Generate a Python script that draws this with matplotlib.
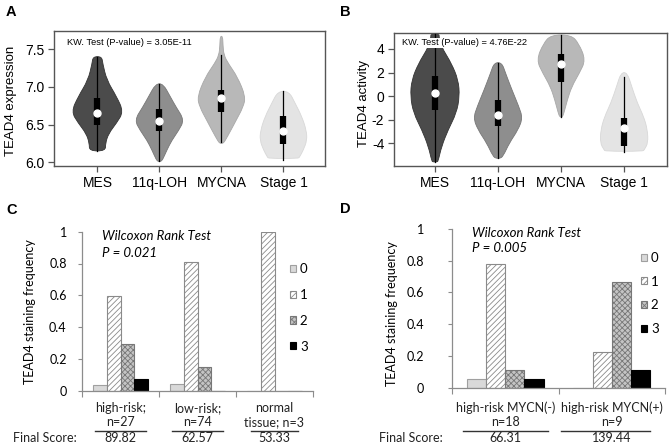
import matplotlib
matplotlib.use("Agg")
import matplotlib.pyplot as plt
import numpy as np
from matplotlib.path import Path
from matplotlib.patches import PathPatch, Patch
from matplotlib.transforms import blended_transform_factory

plt.rcParams['hatch.linewidth'] = 0.6

# ---------------- data: panel A (TEAD4 expression) ----------------
violin_groups = ["MES", "11q-LOH", "MYCNA", "Stage 1"]
violin_colors = ["#4b4b4b", "#8e8e8e", "#b8b8b8", "#e4e4e4"]
violin_edges = ["#333333", "#777777", "#a8a8a8", "#d8d8d8"]

# outline levels (bottom -> top) and half-widths (in category units)
A_MES_y = [6.15, 6.25, 6.38, 6.52, 6.67, 6.87, 7.09, 7.31, 7.40]
A_MES_w = [0.13, 0.13, 0.18, 0.31, 0.42, 0.31, 0.15, 0.086, 0.07]
A_LOH_y = [6.01, 6.03, 6.16, 6.29, 6.42, 6.56, 6.73, 6.87, 7.04]
A_LOH_w = [0.02, 0.05, 0.12, 0.20, 0.31, 0.40, 0.27, 0.175, 0.06]
A_MYC_y = [6.25, 6.27, 6.42, 6.56, 6.73, 6.87, 7.13, 7.31, 7.42, 7.55, 7.67]
A_MYC_w = [0.02, 0.05, 0.15, 0.24, 0.35, 0.39, 0.26, 0.11, 0.04, 0.025, 0.02]
A_ST1_y = [6.05, 6.07, 6.16, 6.29, 6.42, 6.60, 6.78, 6.94]
A_ST1_w = [0.24, 0.26, 0.32, 0.38, 0.37, 0.30, 0.19, 0.09]
# whisker low/high, box q1/q3, median
A_lo = [6.15, 6.02, 6.27, 6.03]
A_hi = [7.40, 7.04, 7.42, 6.94]
A_q1 = [6.49, 6.42, 6.67, 6.24]
A_q3 = [6.85, 6.70, 6.96, 6.61]
A_med = [6.65, 6.55, 6.85, 6.41]
A_yticks = [6.0, 6.5, 7.0, 7.5]
A_ytick_labels = ["6.0", "6.5", "7.0", "7.5"]
A_text = "KW. Test (P-value) = 3.05E-11"

# ---------------- data: panel B (TEAD4 activity) ----------------
B_MES_y = [-5.6, -5.55, -4.28, -2.86, -1.45, -0.04, 1.37, 2.79, 3.92, 4.6, 5.05, 5.27]
B_MES_w = [0.03, 0.05, 0.105, 0.21, 0.34, 0.39, 0.37, 0.26, 0.13, 0.08, 0.065, 0.065]
B_LOH_y = [-5.3, -5.13, -3.99, -2.86, -1.87, -0.89, 0.53, 1.94, 2.84]
B_LOH_w = [0.03, 0.08, 0.18, 0.32, 0.39, 0.33, 0.22, 0.12, 0.06]
B_MYC_y = [-1.79, -1.45, -0.32, 0.81, 1.94, 3.07, 4.48, 5.19]
B_MYC_w = [0.02, 0.045, 0.10, 0.17, 0.29, 0.39, 0.28, 0.16]
B_ST1_y = [-4.7, -4.56, -3.99, -2.86, -1.74, -0.60, 0.81, 1.99]
B_ST1_w = [0.30, 0.32, 0.38, 0.37, 0.31, 0.21, 0.12, 0.05]
B_lo = [-5.6, -5.3, -1.79, -4.79]
B_hi = [5.27, 2.84, 5.19, 1.65]
B_q1 = [-1.2, -2.58, 1.23, -4.22]
B_q3 = [1.71, -0.32, 3.58, -1.87]
B_med = [0.30, -1.59, 2.70, -2.70]
B_yticks = [-4, -2, 0, 2, 4]
B_ytick_labels = ["-4", "-2", "0", "2", "4"]
B_text = "KW. Test (P-value) = 4.76E-22"

# ---------------- data: panel C (staining) ----------------
score_levels = ["0", "1", "2", "3"]
C_groups_line1 = ["high-risk;", "low-risk;", "normal"]
C_groups_line2 = ["n=27", "n=74", "tissue; n=3"]
C_scores = ["89.82", "62.57", "53.33"]
C_freq_0 = [0.037, 0.041, 0.0]
C_freq_1 = [0.593, 0.811, 1.0]
C_freq_2 = [0.296, 0.149, 0.0]
C_freq_3 = [0.074, 0.0, 0.0]
C_test = "Wilcoxon Rank Test"
C_p = "P = 0.021"

# ---------------- data: panel D ----------------
D_groups_line1 = ["high-risk MYCN(-)", "high-risk MYCN(+)"]
D_groups_line2 = ["n=18", "n=9"]
D_scores = ["66.31", "139.44"]
D_freq_0 = [0.056, 0.0]
D_freq_1 = [0.778, 0.222]
D_freq_2 = [0.111, 0.667]
D_freq_3 = [0.056, 0.111]
D_test = "Wilcoxon Rank Test"
D_p = "P = 0.005"

freq_yticks = [0, 0.2, 0.4, 0.6, 0.8, 1.0]
freq_ytick_labels = ["0", "0.2", "0.4", "0.6", "0.8", "1"]

# ---------------- figure ----------------
W, H = 671, 447
fig = plt.figure(figsize=(W / 100, H / 100), dpi=100)

def ax_px(left, top, right, bottom):
    return fig.add_axes([left / W, 1 - bottom / H, (right - left) / W, (bottom - top) / H])

SANS = ["Liberation Sans", "DejaVu Sans"]
CAL = ["Lato", "DejaVu Sans"]

def smooth_outline(pos, ys, ws):
    right = [(pos + w, y) for y, w in zip(ys, ws)]
    left = [(pos - w, y) for y, w in zip(ys[::-1], ws[::-1])]
    pts = np.array(right + left)
    n = len(pts)
    mids = (pts + np.roll(pts, -1, axis=0)) / 2.0
    verts = [mids[-1]]
    codes = [Path.MOVETO]
    for i in range(n):
        verts.append(pts[i]); codes.append(Path.CURVE3)
        verts.append(mids[i]); codes.append(Path.CURVE3)
    verts.append(mids[-1]); codes.append(Path.CLOSEPOLY)
    return Path(verts, codes)

def violin_panel(ax, outlines, lo, hi, q1, q3, med):
    for i, (ys, ws) in enumerate(outlines):
        pos = i + 1
        p = smooth_outline(pos, ys, ws)
        ax.add_patch(PathPatch(p, facecolor=violin_colors[i], edgecolor=violin_edges[i], lw=0.6, zorder=2))
        ax.plot([pos, pos], [lo[i], hi[i]], color="black", lw=0.9, zorder=3)
        ax.plot([pos, pos], [q1[i], q3[i]], color="black", lw=4.5, solid_capstyle="butt", zorder=4)
        ax.plot([pos], [med[i]], "o", color="white", ms=5, mec="white", zorder=5)
    ax.set_xticks(range(1, 5))
    ax.set_xticklabels(violin_groups, fontsize=10, family=SANS)
    for s in ax.spines.values():
        s.set_color("#555555")
        s.set_linewidth(1.0)
    ax.tick_params(axis="both", direction="out", length=4, color="#555555", width=0.9, labelsize=10, pad=3)

# Panel A
axA = ax_px(54, 31, 325, 166)
violin_panel(axA, [(A_MES_y, A_MES_w), (A_LOH_y, A_LOH_w), (A_MYC_y, A_MYC_w), (A_ST1_y, A_ST1_w)],
             A_lo, A_hi, A_q1, A_q3, A_med)
axA.set_xlim(0.30, 4.67)
axA.set_ylim(5.95, 7.74)
axA.set_yticks(A_yticks)
axA.set_yticklabels(A_ytick_labels, family=SANS, fontsize=10)
axA.set_ylabel("TEAD4 expression", family=SANS, fontsize=9.5)
axA.yaxis.set_label_coords(-0.137, 0.483)
axA.text(0.048, 0.915, A_text, transform=axA.transAxes, fontsize=6.7, family=SANS,
         va="center", ha="left", zorder=6)

# Panel B
axB = ax_px(394, 33, 667, 166)
violin_panel(axB, [(B_MES_y, B_MES_w), (B_LOH_y, B_LOH_w), (B_MYC_y, B_MYC_w), (B_ST1_y, B_ST1_w)],
             B_lo, B_hi, B_q1, B_q3, B_med)
axB.set_xlim(0.35, 4.68)
axB.set_ylim(-5.95, 5.36)
axB.set_yticks(B_yticks)
axB.set_yticklabels(B_ytick_labels, family=SANS, fontsize=10)
axB.set_ylabel("TEAD4 activity", family=SANS, fontsize=9.5)
axB.yaxis.set_label_coords(-0.088, 0.47)
axB.text(0.03, 0.925, B_text, transform=axB.transAxes, fontsize=6.7, family=SANS,
         va="center", ha="left", zorder=6,
         bbox=dict(facecolor="white", edgecolor="none", pad=0.6))

# bar styles
bar_face = ["#d9d9d9", "white", "#c4c4c4", "black"]
bar_edge = ["#a0a0a0", "#8a8a8a", "#777777", "black"]
bar_hatch = [None, "//////", "xxxxxx", None]
BW = 0.18

def bar_panel(ax, freqs, line1, line2, scores, lab_y, line_half, line_off):
    n = len(line1)
    x = np.arange(n)
    handles = []
    for k, f in enumerate(freqs):
        offs = (k - 1.5) * BW
        ax.bar(x + offs, f, width=BW, color=bar_face[k], edgecolor=bar_edge[k], hatch=bar_hatch[k],
               linewidth=0.8, zorder=2)
        handles.append(Patch(facecolor=bar_face[k], edgecolor=bar_edge[k], hatch=bar_hatch[k], linewidth=0.8))
    ax.set_xlim(-0.5, n - 0.5)
    ax.set_ylim(0, 1.0)
    ax.set_xticks(np.arange(n + 1) - 0.5)
    ax.set_xticklabels([])
    ax.set_yticks(freq_yticks)
    ax.set_yticklabels(freq_ytick_labels, family=CAL, fontsize=9)
    for s in ["top", "right"]:
        ax.spines[s].set_visible(False)
    for s in ["left", "bottom"]:
        ax.spines[s].set_color("#8c8c8c")
        ax.spines[s].set_linewidth(0.9)
    ax.tick_params(axis="x", direction="out", length=4, color="#8c8c8c", width=0.8)
    ax.tick_params(axis="y", direction="out", length=3, color="#8c8c8c", width=0.8)
    tr = blended_transform_factory(ax.transData, ax.transAxes)
    y1, y2, yl, ys = lab_y
    for i in range(n):
        ax.text(i, y1, line1[i], transform=tr, ha="center", va="center", family=CAL, fontsize=9, color="#222222")
        ax.text(i, y2, line2[i], transform=tr, ha="center", va="center", family=CAL, fontsize=9, color="#222222")
        ax.plot([i + line_off[i] - line_half[i], i + line_off[i] + line_half[i]], [yl, yl], transform=tr,
                color="#333333", lw=1.0, clip_on=False)
        ax.text(i, ys, scores[i], transform=tr, ha="center", va="center", family=CAL, fontsize=9, color="#222222")
    return handles

# Panel C
axC = ax_px(82, 231.7, 313, 390.7)
hC = bar_panel(axC, [C_freq_0, C_freq_1, C_freq_2, C_freq_3], C_groups_line1, C_groups_line2, C_scores,
               (-0.109, -0.197, -0.252, -0.297), [0.325, 0.325, 0.30], [0.0, 0.0, 0.0])
axC.set_ylabel("TEAD4 staining frequency", family=CAL, fontsize=9)
axC.yaxis.set_label_coords(-0.199, 0.498)
axC.tick_params(axis="y", pad=8)
axC.text(0.087, 0.973, C_test, transform=axC.transAxes, family=CAL, fontsize=9.5, style="italic",
         va="center", ha="left")
axC.text(0.087, 0.866, C_p, transform=axC.transAxes, family=CAL, fontsize=9.5, style="italic",
         va="center", ha="left")
fig.legend(hC, score_levels, loc="upper left", bbox_to_anchor=(290 / W, 1 - 263 / H), frameon=False,
           prop=dict(family=CAL, size=9.5), handlelength=0.45, handleheight=0.45, handletextpad=0.3,
           labelspacing=1.05, borderpad=0, borderaxespad=0)
fig.text(77 / W, 1 - 438 / H, "Final Score:", family=CAL, fontsize=9, ha="right", va="center", color="#222222")

# Panel D
axD = ax_px(452, 229, 665, 387.7)
hD = bar_panel(axD, [D_freq_0, D_freq_1, D_freq_2, D_freq_3], D_groups_line1, D_groups_line2, D_scores,
               (-0.128, -0.216, -0.271, -0.317), [0.40, 0.42], [0.0, -0.06])
axD.set_ylabel("TEAD4 staining frequency", family=CAL, fontsize=9)
axD.yaxis.set_label_coords(-0.254, 0.47)
axD.tick_params(axis="y", pad=17)
axD.text(0.092, 0.973, D_test, transform=axD.transAxes, family=CAL, fontsize=9.5, style="italic",
         va="center", ha="left")
axD.text(0.092, 0.878, D_p, transform=axD.transAxes, family=CAL, fontsize=9.5, style="italic",
         va="center", ha="left")
fig.legend(hD, score_levels, loc="upper left", bbox_to_anchor=(641 / W, 1 - 252 / H), frameon=False,
           prop=dict(family=CAL, size=9.5), handlelength=0.45, handleheight=0.45, handletextpad=0.3,
           labelspacing=0.88, borderpad=0, borderaxespad=0)
fig.text(443 / W, 1 - 438 / H, "Final Score:", family=CAL, fontsize=9, ha="right", va="center", color="#222222")

# panel letters
for lab, xp, yp in [("A", 6, 12), ("B", 340, 12), ("C", 6, 210), ("D", 340, 209)]:
    fig.text(xp / W, 1 - yp / H, lab, family=SANS, fontsize=10.5, weight="bold", ha="left", va="center")

fig.savefig("out.png", dpi=100)
